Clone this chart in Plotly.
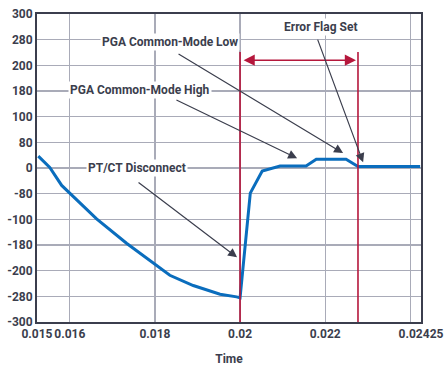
import plotly.graph_objects as go

# ---- data ----
time = [0.01526, 0.01553, 0.01581, 0.01600, 0.01663, 0.01734, 0.01804, 0.01835,
        0.01890, 0.01953, 0.01992, 0.02000, 0.02024, 0.02052, 0.02094, 0.02155,
        0.02179, 0.02249, 0.02277, 0.02423]
signal = [23, 1, -34, -49, -99, -147, -190, -209, -229, -246, -251, -253,
          -49, -6, 4, 4, 17, 17, 3, 3]

x_tickvals = [0.01523, 0.016, 0.018, 0.020, 0.022, 0.024, 0.02425]
x_ticktext = ["0.015", "0.016", "0.018", "0.02", "0.022", "", "0.02425"]
y_tickvals = [300, 250, 200, 150, 100, 50, 0, -50, -100, -150, -200, -250, -300]
y_ticktext = ["300", "280", "200", "180", "100", "80", "0", "-80", "-100", "-180", "-200", "-280", "-300"]

x_range = [0.01523, 0.02425]
y_range = [-300, 300]

error_start = 0.0200
error_end = 0.02277

# annotations: (text, text_x, text_y, tail_x, tail_y, tip_x, tip_y)
labels = [
    ("PGA Common-Mode Low", 0.01836, 245, 0.01852, 224, 0.02242, 29),
    ("PGA Common-Mode High", 0.01765, 152, 0.01847, 134, 0.02134, 19),
    ("PT/CT Disconnect", 0.01757, 0, 0.01758, -26, 0.01993, -174),
    ("Error Flag Set", 0.02188, 275, 0.02181, 253, 0.02289, 11),
]

DARK = "#3b3e4d"
RED = "#b5173c"
BLUE = "#0a6dbd"
GRID = "#a9abb8"
FONT = dict(family="Roboto", size=12, color=DARK, weight=700)

fig = go.Figure()
fig.add_trace(go.Scatter(x=time, y=signal, mode="lines",
                         line=dict(color=BLUE, width=3), showlegend=False,
                         hoverinfo="skip"))

# red marker lines
for xv in (error_start, error_end):
    fig.add_shape(type="line", x0=xv, x1=xv, y0=-300, y1=226, xref="x", yref="y",
                  line=dict(color=RED, width=1.6))

annotations = []
# double arrow
annotations.append(dict(x=error_end, y=210, ax=error_start, ay=210, xref="x", yref="y",
                        axref="x", ayref="y", text="", showarrow=True,
                        arrowhead=2, startarrowhead=2, arrowside="end+start",
                        arrowsize=1.4, startarrowsize=1.4, arrowwidth=1.6, arrowcolor=RED,
                        standoff=2, startstandoff=2))
for text, tx, ty, ax0, ay0, px, py in labels:
    annotations.append(dict(x=px, y=py, ax=ax0, ay=ay0, xref="x", yref="y",
                            axref="x", ayref="y", text="", showarrow=True,
                            arrowhead=2, arrowsize=1.5, arrowwidth=1.2, arrowcolor=DARK))
    annotations.append(dict(x=tx, y=ty, xref="x", yref="y", text=text, showarrow=False,
                            font=FONT, bgcolor="white", borderpad=1))

fig.update_layout(
    width=446, height=366,
    margin=dict(l=37, r=25, t=14, b=44),
    paper_bgcolor="white", plot_bgcolor="white",
    font=FONT,
    annotations=annotations,
    xaxis=dict(range=x_range, tickmode="array", tickvals=x_tickvals, ticktext=x_ticktext,
               showgrid=True, gridcolor=GRID, gridwidth=1.2, zeroline=False,
               showline=True, linecolor=DARK, linewidth=2, mirror=True,
               ticks="", tickfont=FONT, tickangle=0, automargin=False,
               ticklabeloverflow="allow",
               title=dict(text="Time", font=FONT, standoff=15)),
    yaxis=dict(range=y_range, tickmode="array", tickvals=y_tickvals, ticktext=y_ticktext,
               showgrid=True, gridcolor=GRID, gridwidth=1.2, zeroline=False,
               showline=True, linecolor=DARK, linewidth=2, mirror=True,
               ticks="", tickfont=FONT, automargin=False, ticklabeloverflow="allow"),
)

fig.write_html("out.html", config={"displayModeBar": False, "staticPlot": True},
               post_script="document.body.style.margin='0';document.body.style.overflow='hidden';")
